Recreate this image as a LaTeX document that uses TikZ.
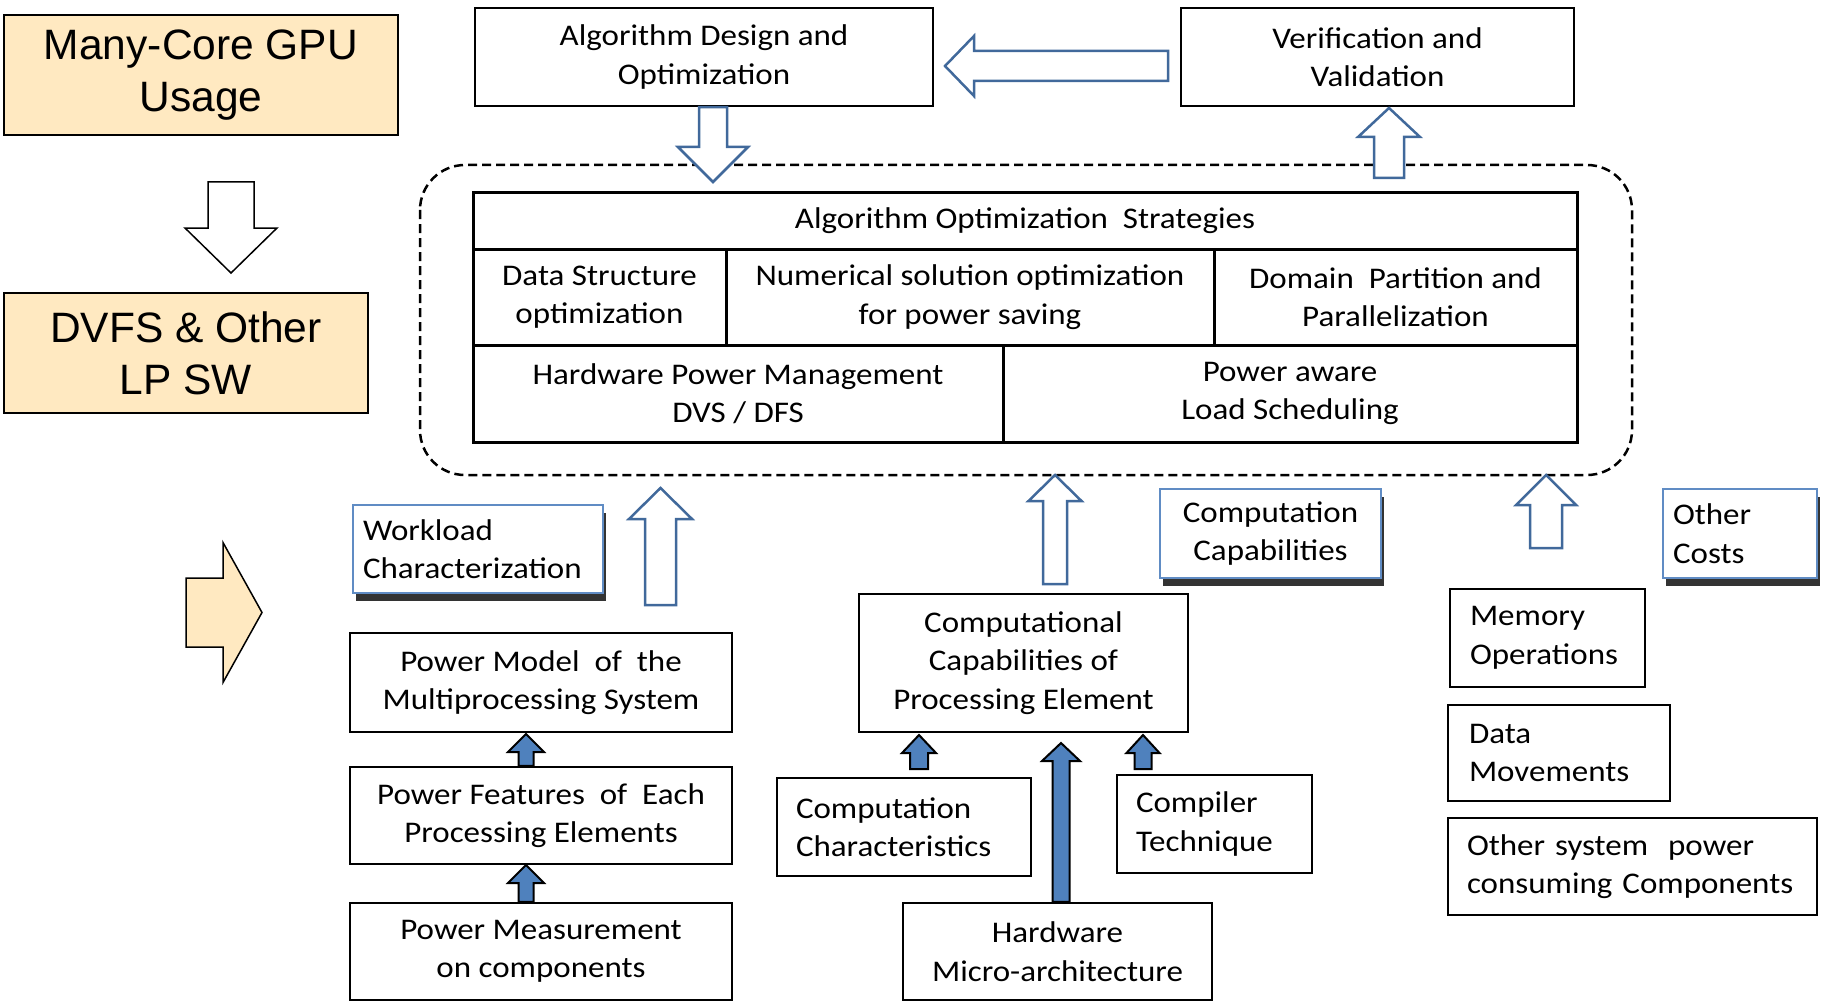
\documentclass[tikz,border=0pt]{standalone}
\usepackage{fontspec}
\setmainfont{Carlito}[FakeStretch=1.1]
\newfontfamily\arialf{Liberation Sans}
\usetikzlibrary{shadows,calc}
\definecolor{beige}{RGB}{255,233,193}
\definecolor{boxblue}{RGB}{96,140,196}
\definecolor{arrowblue}{RGB}{65,105,155}
\definecolor{fillblue}{RGB}{79,129,189}
% vertical block arrow: style, tail, tip, head length (canvas, + = up), shaft half width, head half width
\newcommand{\varrow}[6]{%
  \draw[#1] let \p1=(#2), \p2=(#3) in
    ({\x2-(#5)},\y1) -- ({\x2-(#5)},{\y2-(#4)}) -- ({\x2-(#6)},{\y2-(#4)}) -- (\x2,\y2)
    -- ({\x2+(#6)},{\y2-(#4)}) -- ({\x2+(#5)},{\y2-(#4)}) -- ({\x2+(#5)},\y1) -- cycle;}
% horizontal block arrow: style, tail, tip, head length (+ = rightwards), shaft half width, head half width
\newcommand{\harrow}[6]{%
  \draw[#1] let \p1=(#2), \p2=(#3) in
    (\x1,{\y2-(#5)}) -- ({\x2-(#4)},{\y2-(#5)}) -- ({\x2-(#4)},{\y2-(#6)}) -- (\x2,\y2)
    -- ({\x2-(#4)},{\y2+(#6)}) -- ({\x2-(#4)},{\y2+(#5)}) -- (\x1,{\y2+(#5)}) -- cycle;}
\begin{document}
\begin{tikzpicture}[x=1pt,y=-1pt,
  bx/.style={draw=black, line width=2.5pt, fill=white, inner sep=0pt, align=center,
    font=\fontsize{30}{38.5}\selectfont},
  lbx/.style={bx, align=left},
  bluebx/.style={draw=boxblue, line width=2.5pt, fill=white, inner sep=0pt,
    font=\fontsize{30}{38.5}\selectfont,
    drop shadow={shadow xshift=3pt, shadow yshift=-8pt, fill=black, opacity=0.8}},
  cell/.style={bx, line width=3pt},
  tanbox/.style={draw=black, line width=1.5pt, fill=beige, inner sep=0pt, align=center,
    font=\arialf\fontsize{42.5}{52}\selectfont},
  hollow/.style={draw=arrowblue, line width=2.5pt, fill=white, line join=miter},
  plainarr/.style={draw=black, line width=1.5pt, fill=white, line join=miter},
  tanarr/.style={draw=black, line width=1.5pt, fill=beige, line join=miter},
  solidarr/.style={draw=black, line width=2pt, fill=fillblue, line join=miter},
  dashbox/.style={draw=black, line width=2.5pt, dash pattern=on 9pt off 5pt, rounded corners=45pt}
]
\useasboundingbox (0,0) rectangle (1825,1003);

% left column
\node[tanbox, minimum width=394, minimum height=120] (manycore) at (201,75) {Many-Core GPU\\Usage};
\node[tanbox, minimum width=364, minimum height=120] (dvfs) at (186,353) {DVFS \& Other\\LP SW};
\coordinate (mtail) at (231,182); \coordinate (mtip) at (231,273);
\varrow{plainarr}{mtail}{mtip}{-45pt}{23pt}{46pt}
\coordinate (rtail) at (186,612.5); \coordinate (rtip) at (262,612.5);
\harrow{tanarr}{rtail}{rtip}{39pt}{34.5pt}{70pt}

% top boxes
\node[bx, minimum width=458, minimum height=98] (algdesign) at (704,57) {Algorithm Design and\\Optimization};
\node[bx, minimum width=393, minimum height=98] (verif) at (1377.5,57) {Verification and\\Validation};

% dashed container
\draw[dashbox] (420,165) rectangle (1632,475);

% strategies table
\node[cell, minimum width=1104, minimum height=56] (strat) at (1025,221) {Algorithm Optimization\ \ Strategies};
\node[cell, minimum width=253, minimum height=96] (ds) at (599.5,297) {Data Structure\\optimization};
\node[cell, minimum width=488, minimum height=96] (num) at (970,297) {Numerical solution optimization\\for power saving};
\node[cell, minimum width=363, minimum height=96] (dom) at (1395.5,297) {Domain\ \ Partition and\\Parallelization};
\node[cell, minimum width=530, minimum height=97] (hpm) at (738,393.5) {Hardware Power Management\\DVS / DFS};
\node[cell, minimum width=574, minimum height=97] (pal) at (1290,393.5) {Power aware\\Load Scheduling};

% arrows around the top
\coordinate (atip) at (713,182);
\varrow{hollow}{algdesign.south}{atip}{-35pt}{14pt}{35pt}
\coordinate (ltail) at (1168,66); \coordinate (ltip) at (945,66);
\harrow{hollow}{ltail}{ltip}{-29pt}{15pt}{30pt}
\coordinate (vtail) at (1389,178); \coordinate (vtip) at (1389,108);
\varrow{hollow}{vtail}{vtip}{29pt}{15pt}{31pt}

% left group
\node[bluebx, align=left, text width=230, inner xsep=10pt, minimum height=88] (workload) at (478,549) {Workload\\Characterization};
\coordinate (wtail) at (660.5,605); \coordinate (wtip) at (660.5,488);
\varrow{hollow}{wtail}{wtip}{31pt}{15.5pt}{31.5pt}
\node[bx, minimum width=382, minimum height=99] (powermodel) at (541,682.5) {Power Model\ \ of\ \ the\\Multiprocessing System};
\node[bx, minimum width=382, minimum height=97] (powerfeat) at (541,815.5) {Power Features\ \ of\ \ Each\\Processing Elements};
\node[bx, minimum width=382, minimum height=97] (powermeas) at (541,951.5) {Power Measurement\\on components};
\coordinate (pf) at (526,734);
\varrow{solidarr}{powerfeat.north}{pf}{18pt}{7.5pt}{18pt}
\coordinate (pm) at (526,865);
\varrow{solidarr}{powermeas.north}{pm}{18pt}{7.5pt}{18pt}

% middle group
\coordinate (ctail) at (1055,584); \coordinate (ctip) at (1055,475);
\varrow{hollow}{ctail}{ctip}{26pt}{12pt}{26.5pt}
\node[bluebx, align=center, minimum width=221, minimum height=89] (compcap) at (1270.5,533.5) {Computation\\Capabilities};
\node[bx, minimum width=329, minimum height=138] (cpe) at (1023.5,663) {Computational\\Capabilities of\\Processing Element};
\node[lbx, text width=216, inner xsep=19pt, minimum height=98] (compchar) at (904,827) {Computation\\Characteristics};
\node[lbx, text width=157, inner xsep=19pt, minimum height=98] (compiler) at (1214.5,824) {Compiler\\Technique};
\node[bx, minimum width=309, minimum height=97] (hwarch) at (1057.5,951.5) {Hardware\\Micro-architecture};
\coordinate (cctail) at (919,769); \coordinate (cctip) at (919,735);
\varrow{solidarr}{cctail}{cctip}{18pt}{9pt}{17pt}
\coordinate (hwtip) at (1061,743);
\varrow{solidarr}{hwarch.north}{hwtip}{18pt}{8.5pt}{19pt}
\coordinate (cotail) at (1143,769); \coordinate (cotip) at (1143,735);
\varrow{solidarr}{cotail}{cotip}{18pt}{8.5pt}{16.5pt}

% right group
\coordinate (otail) at (1546,548); \coordinate (otip) at (1546,475);
\varrow{hollow}{otail}{otip}{30pt}{16pt}{30pt}
\node[bluebx, align=left, text width=134, inner xsep=10pt, minimum height=89] (othercosts) at (1740,533.5) {Other\\Costs};
\node[lbx, text width=155, inner xsep=20pt, minimum height=98] (memops) at (1547.5,638) {Memory\\Operations};
\node[lbx, text width=180, inner xsep=21pt, minimum height=96] (datamov) at (1559,753) {Data\\Movements};
\node[lbx, text width=331, inner xsep=19pt, minimum height=97] (othersys) at (1632.5,866.5) {Other~system\ \ power\\consuming~Components};
\end{tikzpicture}
\end{document}
